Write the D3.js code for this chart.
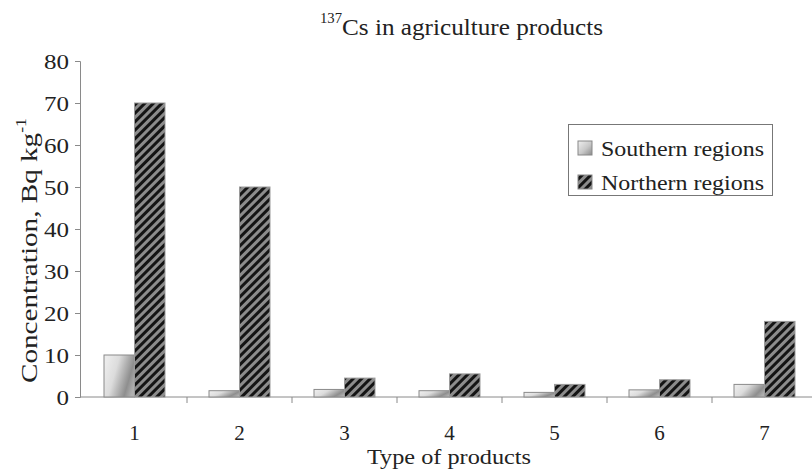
<!DOCTYPE html>
<html>
<head>
<meta charset="utf-8">
<script src="https://cdn.jsdelivr.net/npm/d3@7"></script>
<style>
  html, body { margin: 0; padding: 0; background: #fff; }
  svg { display: block; font-family: "Liberation Serif", "Times New Roman", serif; }
  text { fill: #222; }
</style>
</head>
<body>
<svg id="chart" width="812" height="470"></svg>
<script>
// Product types on the x axis
const categories = ["1", "2", "3", "4", "5", "6", "7"];
// 137Cs concentration, Bq/kg
const southern = [10, 1.5, 1.8, 1.5, 1.1, 1.7, 3.0];
const northern = [70, 50, 4.5, 5.5, 3.0, 4.1, 18];
const seriesNames = ["Southern regions", "Northern regions"];
const yTicks = [0, 10, 20, 30, 40, 50, 60, 70, 80];

const svg = d3.select("#chart");
const margin = { left: 80, top: 61, bottom: 397 };
const axisRight = 812;

const x = d3.scaleBand().domain(categories).range([82, 817]);
const y = d3.scaleLinear().domain([0, 80]).range([margin.bottom, margin.top]);
const barW = 30.5;

// Fills: soft gradient for the southern series, diagonal hatch for the northern one
const defs = svg.append("defs");
const grad = defs.append("linearGradient").attr("id", "southFill")
  .attr("x1", 0).attr("y1", 0.3).attr("x2", 1).attr("y2", 0.7);
[["0%", "#ececec"], ["35%", "#dcdcdc"], ["80%", "#8e8e8e"], ["100%", "#b0b0b0"]]
  .forEach(([o, c]) => grad.append("stop").attr("offset", o).attr("stop-color", c));

const legGrad = defs.append("linearGradient").attr("id", "southLeg")
  .attr("x1", 0).attr("y1", 0).attr("x2", 1).attr("y2", 1);
[["0%", "#f0f0f0"], ["55%", "#c8c8c8"], ["100%", "#8a8a8a"]]
  .forEach(([o, c]) => legGrad.append("stop").attr("offset", o).attr("stop-color", c));

const hatch = defs.append("pattern").attr("id", "northFill")
  .attr("patternUnits", "userSpaceOnUse").attr("width", 6).attr("height", 6)
  .attr("patternTransform", "rotate(45)");
hatch.append("rect").attr("width", 6).attr("height", 6).attr("fill", "#8c8c8c");
hatch.append("rect").attr("width", 3).attr("height", 6).attr("fill", "#141414");

// Axes
const axisColor = "#8a8a8a";
const yAxis = d3.axisLeft(y).tickValues(yTicks).tickSize(5).tickPadding(6);
const gy = svg.append("g").attr("transform", `translate(${margin.left},0)`).call(yAxis);
gy.select(".domain").attr("stroke", axisColor);
gy.selectAll(".tick line").attr("stroke", axisColor);
gy.selectAll(".tick text").attr("font-size", 21).attr("fill", "#222")
  .attr("font-family", "Liberation Serif").attr("dy", "0.34em")
  .attr("textLength", d => String(d).length * 12.5)
  .attr("lengthAdjust", "spacingAndGlyphs");

// X axis: line with ticks at category boundaries
const gx = svg.append("g");
gx.append("line").attr("x1", margin.left).attr("x2", axisRight)
  .attr("y1", y(0)).attr("y2", y(0)).attr("stroke", axisColor);
categories.slice(1).forEach(c => {
  gx.append("line").attr("x1", x(c)).attr("x2", x(c))
    .attr("y1", y(0)).attr("y2", y(0) + 6).attr("stroke", axisColor);
});
gx.selectAll("text.cat").data(categories).join("text").attr("class", "cat")
  .attr("x", d => x(d) + x.bandwidth() / 2).attr("y", 439.5)
  .attr("text-anchor", "middle").attr("font-size", 21)
  .text(d => d);

// Bars
const rows = categories.map((c, i) => ({ c, s: southern[i], n: northern[i] }));
const bars = svg.append("g");
bars.selectAll("rect.s").data(rows).join("rect").attr("class", "s")
  .attr("x", d => x(d.c) + x.bandwidth() / 2 - barW)
  .attr("y", d => y(d.s)).attr("width", barW).attr("height", d => y(0) - y(d.s))
  .attr("fill", "url(#southFill)").attr("stroke", "#8a8a8a").attr("stroke-width", 1);
bars.selectAll("rect.n").data(rows).join("rect").attr("class", "n")
  .attr("x", d => x(d.c) + x.bandwidth() / 2)
  .attr("y", d => y(d.n)).attr("width", barW).attr("height", d => y(0) - y(d.n))
  .attr("fill", "url(#northFill)").attr("stroke", "#9a9a9a").attr("stroke-width", 1);

// Title with superscript mass number (one text element)
const title = svg.append("text").attr("x", 320).attr("y", 35).attr("font-size", 24)
  .attr("textLength", 283).attr("lengthAdjust", "spacingAndGlyphs");
title.append("tspan").attr("font-size", 14).attr("dy", -12).text("137");
title.append("tspan").attr("dy", 12).text("Cs in agriculture products");

// Axis titles
svg.append("text").attr("x", 367).attr("y", 464).attr("font-size", 21.5)
  .attr("textLength", 164).attr("lengthAdjust", "spacingAndGlyphs")
  .text("Type of products");
const yt = svg.append("text").attr("transform", "translate(37,383) rotate(-90)")
  .attr("x", 0).attr("y", 0).attr("font-size", 23)
  .attr("textLength", 265).attr("lengthAdjust", "spacingAndGlyphs");
yt.append("tspan").text("Concentration, Bq kg");
yt.append("tspan").attr("font-size", 14).attr("dy", -11).text("-1");

// Legend
const leg = svg.append("g");
leg.append("rect").attr("x", 568.5).attr("y", 124.5).attr("width", 204).attr("height", 71)
  .attr("fill", "#fff").attr("stroke", "#777");
const legFills = ["url(#southLeg)", "url(#northFill)"];
seriesNames.forEach((name, i) => {
  const cy = 148 + i * 34;
  leg.append("rect").attr("x", 578).attr("y", cy - 7).attr("width", 14).attr("height", 14)
    .attr("fill", legFills[i]).attr("stroke", "#888");
  leg.append("text").attr("x", 601).attr("y", cy + 7.5).attr("font-size", 21)
    .attr("textLength", 163).attr("lengthAdjust", "spacingAndGlyphs").text(name);
});
</script>
</body>
</html>
